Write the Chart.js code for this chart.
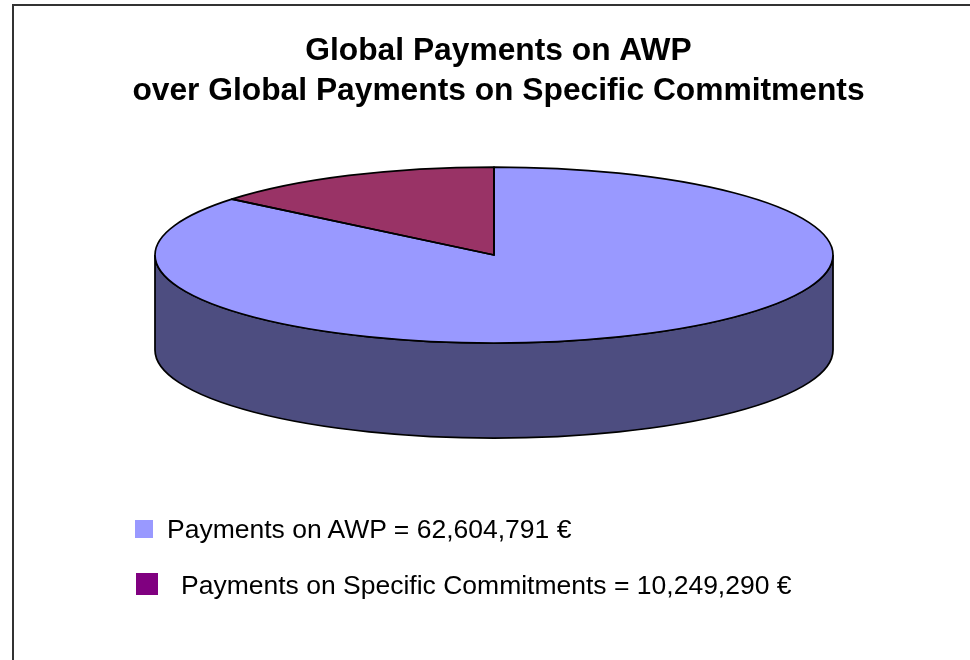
<!DOCTYPE html>
<html>
<head>
<meta charset="utf-8">
<title>Global Payments on AWP</title>
<script src="https://cdn.jsdelivr.net/npm/chart.js@4"></script>
<style>
  html, body { margin: 0; height: 100%; overflow: hidden; background: #fff; }
  #frame { position: absolute; left: 12px; top: 4px; width: 990px; height: 670px; border-left: 2px solid #333; border-top: 2px solid #333; }
  #box { position: absolute; left: 0; top: 0; width: 969px; height: 654px; }
  .key { position: absolute; font: 26.5px "Liberation Sans", Arial, sans-serif; color: #000; white-space: nowrap; line-height: 28px; }
  .swatch { position: absolute; }
</style>
</head>
<body>
<div id="frame"><div id="box"><canvas id="chart"></canvas></div></div>
<div id="legend"></div>
<script>
const titleLines = ['Global Payments on AWP', 'over Global Payments on Specific Commitments'];
const labels = ['Payments on AWP', 'Payments on Specific Commitments'];
const values = [62604791, 10249290];
const sliceColors = ['#9999ff', '#993366'];
const keyColors = ['#9999ff', '#800080'];

// pie is squashed into an ellipse, with a wall below it
const squash = 88 / 339;
const pieX = 480;
const pieY = 249;
const wallDepth = 95;
const wallColor = '#4d4d80';

const pie3d = {
  id: 'pie3d',
  beforeDatasetsDraw(chart) {
    const ctx = chart.ctx;
    const arc = chart.getDatasetMeta(0).data[0];
    const r = arc.outerRadius;

    // side wall, only the front half shows
    ctx.save();
    ctx.beginPath();
    ctx.ellipse(pieX, pieY + wallDepth, r, r * squash, 0, 0, Math.PI);
    ctx.ellipse(pieX, pieY, r, r * squash, 0, Math.PI, 0, true);
    ctx.closePath();
    ctx.fillStyle = wallColor;
    ctx.fill();
    ctx.lineWidth = 1.75;
    ctx.strokeStyle = '#000';
    ctx.stroke();
    ctx.restore();

    ctx.save();
    ctx.translate(pieX, pieY);
    ctx.scale(1, squash);
    ctx.translate(-arc.x, -arc.y);
  },
  afterDatasetsDraw(chart) {
    const ctx = chart.ctx;
    ctx.restore();

    // outlines drawn unscaled so the line keeps an even width
    ctx.save();
    ctx.lineWidth = 1.75;
    ctx.lineJoin = 'round';
    ctx.strokeStyle = '#000';
    chart.getDatasetMeta(0).data.forEach(arc => {
      const r = arc.outerRadius;
      ctx.beginPath();
      ctx.moveTo(pieX, pieY);
      ctx.ellipse(pieX, pieY, r, r * squash, 0, arc.startAngle, arc.endAngle);
      ctx.closePath();
      ctx.stroke();
    });
    ctx.restore();
  }
};

new Chart(document.getElementById('chart'), {
  type: 'pie',
  data: {
    labels: labels,
    datasets: [{
      data: values,
      backgroundColor: sliceColors,
      borderWidth: 0,
      radius: 339,
      clip: false
    }]
  },
  options: {
    responsive: true,
    maintainAspectRatio: false,
    animation: false,
    plugins: {
      legend: { display: false },
      tooltip: { enabled: false },
      title: {
        display: true,
        text: titleLines,
        color: '#000',
        font: { family: '"Liberation Sans", Arial, sans-serif', size: 31.75, weight: 'bold', lineHeight: 1.26 },
        padding: { top: 25, bottom: 0 }
      }
    }
  },
  plugins: [pie3d]
});

// legend sits apart from the pie, second row is indented in the original
const swatches = [[135, 520, 18], [136, 573, 22]];
const textPos = [[167, 515], [181, 571]];
const legend = document.getElementById('legend');
labels.forEach((label, i) => {
  const sw = document.createElement('div');
  sw.className = 'swatch';
  sw.style.cssText = `left:${swatches[i][0]}px;top:${swatches[i][1]}px;width:${swatches[i][2]}px;height:${swatches[i][2]}px;background:${keyColors[i]}`;
  legend.appendChild(sw);
  const key = document.createElement('div');
  key.className = 'key';
  key.style.left = textPos[i][0] + 'px';
  key.style.top = textPos[i][1] + 'px';
  key.textContent = `${label} = ${values[i].toLocaleString('en-US')} €`;
  legend.appendChild(key);
});
</script>
</body>
</html>
